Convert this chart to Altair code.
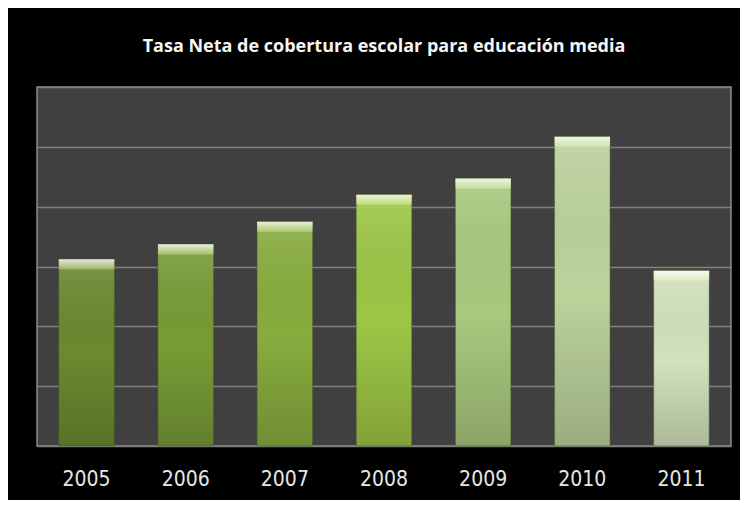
import altair as alt
import pandas as pd

years = ["2005", "2006", "2007", "2008", "2009", "2010", "2011"]
values = [31.2, 33.7, 37.5, 42.0, 44.7, 51.7, 29.3]
bar_colors = ["#6b8a30", "#789c36", "#88ad3e", "#9ec646", "#a9c97e", "#bcd39c", "#d3e2bd"]
title_text = "Tasa  Neta de cobertura escolar para educación media"

df = pd.DataFrame({"year": years, "value": values})

x_enc = alt.X("year:N", sort=years,
              scale=alt.Scale(paddingInner=0.44, paddingOuter=0.22),
              axis=alt.Axis(title=None, labelAngle=0, ticks=False, domain=False,
                            labelPadding=22, labelFontSize=21,
                            labelFont="Liberation Sans Narrow, DejaVu Sans Condensed, sans-serif",
                            labelColor="#e6e6e6"))
y_scale = alt.Scale(domain=[0, 60])
y_enc = alt.Y("value:Q", scale=y_scale,
              axis=alt.Axis(title=None, labels=False, ticks=False, domain=False,
                            grid=True, gridColor="#808080", gridWidth=1.5,
                            values=[0, 10, 20, 30, 40, 50, 60]))

base = alt.Chart(df)

bars = base.mark_bar(stroke="#4a5e22", strokeOpacity=0.5, strokeWidth=1).encode(
    x=x_enc,
    y=y_enc,
    color=alt.Color("year:N", scale=alt.Scale(domain=years, range=bar_colors), legend=None),
)

shade = base.mark_bar(
    color=alt.Gradient(
        gradient="linear", x1=0, x2=0, y1=1, y2=0,
        stops=[alt.GradientStop(color="rgba(0,0,0,0.18)", offset=0),
               alt.GradientStop(color="rgba(0,0,0,0.0)", offset=0.5),
               alt.GradientStop(color="rgba(255,255,255,0.12)", offset=1)],
    )
).encode(x=alt.X("year:N", sort=years), y=alt.Y("value:Q"))

bevel = base.transform_calculate(low="datum.value - 1.7").mark_bar(
    color=alt.Gradient(
        gradient="linear", x1=0, x2=0, y1=0, y2=1,
        stops=[alt.GradientStop(color="rgba(255,255,255,0.8)", offset=0),
               alt.GradientStop(color="rgba(240,255,200,0.3)", offset=1)],
    )
).encode(x=alt.X("year:N", sort=years), y=alt.Y("value:Q"), y2="low:Q")

chart = alt.layer(bars, shade, bevel).properties(
    width=694, height=359,
    title=alt.TitleParams(title_text, color="#f5f5f5", fontSize=18, font="Open Sans",
                          fontWeight="bold", anchor="middle", offset=31),
    background="black",
    padding={"left": 29, "right": 9, "top": 79, "bottom": 54},
    autosize=alt.AutoSizeParams(type="none"),
).configure_view(fill="#404040", stroke="#8a8a8a", strokeWidth=1.5)

chart.save("out.html", embed_options={"renderer": "svg", "actions": False})
